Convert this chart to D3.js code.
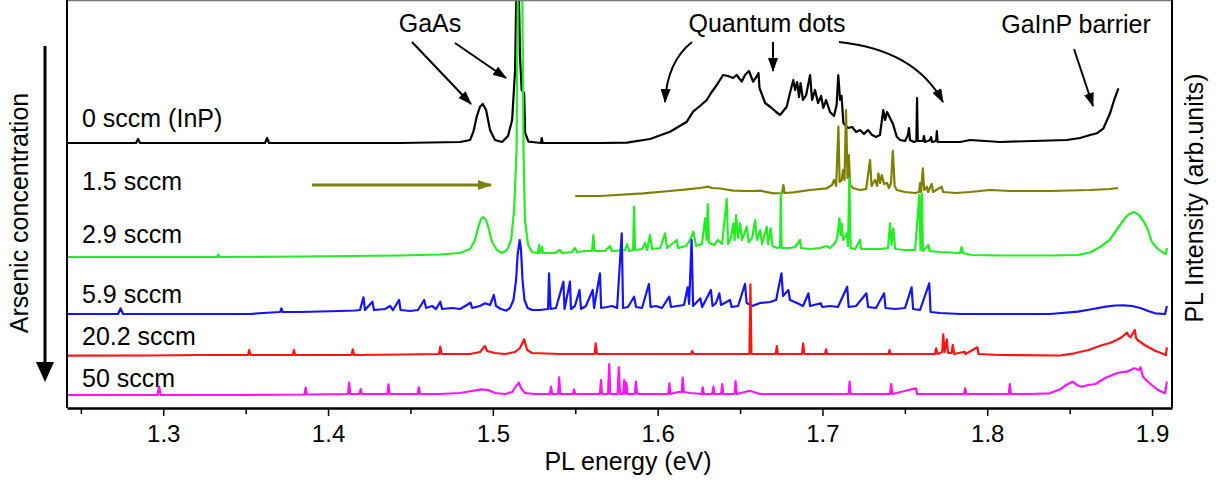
<!DOCTYPE html>
<html><head><meta charset="utf-8">
<script src="https://cdn.jsdelivr.net/npm/d3@7"></script>
<style>body{margin:0;background:#fff} text{font-family:"Liberation Sans",Arial,sans-serif;fill:#000}</style>
</head><body><svg id="c" width="1231" height="486"></svg>
<script>
// ---------- DATA (energy in eV, intensity in arb. units incl. vertical offset) ----------
const energyTicks = [1.3, 1.4, 1.5, 1.6, 1.7, 1.8, 1.9];
const minorTicks = [1.25, 1.35, 1.45, 1.55, 1.65, 1.75, 1.85];
const seriesNames = ["0 sccm (InP)", "1.5 sccm", "2.9 sccm", "5.9 sccm", "20.2 sccm", "50 sccm"];

const spec0 = [[1.2416,2650],[1.2835,2650],[1.2847,2690],[1.2859,2650],[1.3618,2650],[1.3630,2700],[1.3642,2650],[1.4437,2650],[1.4801,2660],
[1.4862,2680],[1.4882,2763],[1.4902,2913],[1.4922,3013],[1.4939,3040],[1.4959,2980],[1.4983,2780],[1.5013,2680],[1.5056,2660],
[1.5092,2720],[1.5117,2880],[1.5135,3380],[1.5144,4300],[1.5150,6000],[1.5156,4300],[1.5165,3510],[1.5175,3180],[1.5190,3150],[1.5196,2750],[1.5216,2663],[1.5238,2660],
[1.5292,2650],[1.5297,2700],[1.5302,2650],[1.5650,2650],[1.5814,2653],[1.5954,2690],[1.6075,2763],[1.6177,2863],[1.6215,2963],[1.6257,3020],[1.6298,3080],
[1.6324,3150],[1.6359,3230],[1.6397,3330],[1.6427,3320],[1.6458,3300],[1.6480,3330],[1.6510,3263],[1.6530,3330],[1.6554,3370],[1.6579,3263],[1.6603,3320],
[1.6612,3350],[1.6618,3200],[1.6634,3130],[1.6652,3050],[1.6692,3000],[1.6719,2960],[1.6743,2930],[1.6783,3013],[1.6803,3150],[1.6823,3280],[1.6834,3180],
[1.6846,3260],[1.6858,3110],[1.6867,3250],[1.6882,3080],[1.6901,3130],[1.6925,3330],[1.6937,3080],[1.6955,3180],[1.6973,3050],[1.6992,3120],[1.7005,3000],
[1.7022,3080],[1.7046,2960],[1.7070,2920],[1.7086,3030],[1.7096,3330],[1.7107,3080],[1.7116,3120],[1.7127,2850],[1.7155,2800],[1.7180,2810],[1.7204,2760],
[1.7228,2780],[1.7252,2740],[1.7276,2780],[1.7301,2730],[1.7325,2710],[1.7349,2730],[1.7369,2980],[1.7380,2880],[1.7392,2960],[1.7410,2900],[1.7428,2840],
[1.7451,2713],[1.7471,2680],[1.7501,2670],[1.7519,2730],[1.7525,2800],[1.7531,2680],[1.7556,2660],[1.7570,2670],[1.7574,3100],[1.7578,2670],[1.7610,2670],
[1.7616,2720],[1.7622,2660],[1.7653,2680],[1.7659,2710],[1.7665,2660],[1.7690,2670],[1.7694,2770],[1.7699,2660],[1.7835,2660],[1.7896,2680],[1.8078,2660],
[1.8483,2680],[1.8563,2700],[1.8624,2730],[1.8665,2747],[1.8705,2797],[1.8745,2947],[1.8770,3080],[1.8796,3197]];

const spec1 = [[1.5500,2120],[1.5650,2120],[1.5913,2147],[1.6075,2170],[1.6177,2187],[1.6257,2200],[1.6308,2213],[1.6330,2200],[1.6379,2195],[1.6459,2173],
[1.6530,2170],[1.6591,2170],[1.6622,2173],[1.6702,2147],[1.6755,2150],[1.6763,2230],[1.6770,2150],[1.6823,2157],[1.6925,2180],[1.7026,2197],[1.7058,2230],
[1.7070,2280],[1.7083,2220],[1.7097,2813],[1.7104,2260],[1.7117,2280],[1.7125,2380],[1.7134,2280],[1.7143,2980],[1.7152,2300],[1.7160,2530],[1.7168,2230],
[1.7188,2197],[1.7228,2180],[1.7265,2190],[1.7289,2480],[1.7298,2220],[1.7319,2280],[1.7332,2220],[1.7339,2347],[1.7350,2250],[1.7360,2330],[1.7374,2240],
[1.7392,2250],[1.7404,2200],[1.7416,2250],[1.7427,2573],[1.7438,2220],[1.7451,2180],[1.7501,2160],[1.7562,2150],[1.7586,2160],[1.7592,2250],[1.7598,2160],
[1.7609,2397],[1.7617,2180],[1.7633,2213],[1.7641,2160],[1.7663,2240],[1.7671,2160],[1.7724,2213],[1.7732,2160],[1.7805,2150],[1.7896,2160],[1.8017,2180],
[1.8139,2170],[1.8381,2170],[1.8624,2180],[1.8745,2190],[1.8794,2200]];

const spec2 = [[1.2416,1510],[1.3223,1510],[1.3327,1510],[1.3334,1535],[1.3342,1510],[1.3830,1515],[1.4133,1520],[1.4437,1525],[1.4680,1535],[1.4801,1550],
[1.4862,1590],[1.4892,1680],[1.4910,1800],[1.4928,1890],[1.4941,1910],[1.4959,1880],[1.4977,1780],[1.4995,1660],[1.5025,1580],[1.5056,1550],[1.5086,1580],
[1.5111,1680],[1.5129,1980],[1.5144,2580],[1.5153,4500],[1.5165,6000],[1.5177,4500],[1.5186,2580],[1.5195,1880],[1.5214,1630],[1.5238,1560],
[1.5274,1550],[1.5280,1630],[1.5286,1550],[1.5298,1610],[1.5305,1550],[1.5377,1550],[1.5407,1580],[1.5420,1550],[1.5480,1560],[1.5499,1600],[1.5510,1560],
[1.5559,1570],[1.5602,1570],[1.5610,1730],[1.5617,1570],[1.5681,1570],[1.5711,1620],[1.5723,1570],[1.5802,1580],[1.5814,1640],[1.5826,1570],[1.5851,1580],
[1.5857,2013],[1.5863,1580],[1.5905,1590],[1.5924,1650],[1.5936,1580],[1.5954,1730],[1.5966,1590],[1.6015,1600],[1.6045,1747],[1.6057,1600],[1.6116,1680],
[1.6124,1600],[1.6172,1620],[1.6197,1680],[1.6217,1763],[1.6233,1620],[1.6269,1640],[1.6288,1897],[1.6297,1680],[1.6304,2040],[1.6312,1650],[1.6342,1630],
[1.6366,1680],[1.6391,1640],[1.6419,2090],[1.6427,1640],[1.6445,1700],[1.6460,1847],[1.6467,1680],[1.6476,1930],[1.6488,1700],[1.6500,1847],[1.6512,1680],
[1.6541,1813],[1.6552,1660],[1.6573,1700],[1.6591,1880],[1.6603,1680],[1.6622,1780],[1.6634,1640],[1.6662,1813],[1.6670,1640],[1.6686,1797],[1.6697,1620],
[1.6725,1600],[1.6743,1610],[1.6747,2153],[1.6752,1600],[1.6803,1600],[1.6834,1610],[1.6864,1680],[1.6870,1600],[1.6925,1590],[1.6986,1600],[1.7022,1620],
[1.7046,1600],[1.7076,1650],[1.7089,1700],[1.7103,1897],[1.7110,1730],[1.7117,1847],[1.7125,1680],[1.7148,1747],[1.7155,1620],[1.7163,2300],[1.7171,1600],
[1.7198,1590],[1.7228,1680],[1.7234,1590],[1.7289,1590],[1.7350,1590],[1.7398,1600],[1.7410,1847],[1.7419,1630],[1.7430,1797],[1.7441,1590],[1.7501,1580],
[1.7562,1580],[1.7588,2130],[1.7595,1580],[1.7603,2147],[1.7610,1570],[1.7643,1630],[1.7650,1570],[1.7714,1560],[1.7835,1550],[1.7844,1610],[1.7853,1550],
[1.7908,1530],[1.8078,1525],[1.8381,1525],[1.8549,1530],[1.8624,1555],[1.8684,1610],[1.8742,1680],[1.8776,1760],[1.8806,1830],[1.8836,1900],[1.8860,1940],
[1.8891,1960],[1.8921,1930],[1.8951,1860],[1.8975,1780],[1.8998,1663],[1.9030,1600],[1.9060,1560],[1.9084,1540],[1.9090,1600]];

const spec3 = [[1.2416,940],[1.2726,940],[1.2741,997],[1.2756,940],[1.3527,940],[1.3606,950],[1.3709,960],[1.3717,997],[1.3724,960],[1.3830,960],[1.3951,965],
[1.4073,970],[1.4164,975],[1.4194,980],[1.4215,1107],[1.4224,980],[1.4269,1063],[1.4279,980],[1.4346,990],[1.4376,1020],[1.4394,980],[1.4431,1080],[1.4440,980],
[1.4498,970],[1.4546,980],[1.4583,1080],[1.4595,1000],[1.4631,1020],[1.4655,990],[1.4681,1063],[1.4692,990],[1.4752,1000],[1.4801,990],[1.4865,1053],[1.4874,1000],
[1.4922,1020],[1.4953,1047],[1.4983,1030],[1.5006,1130],[1.5019,1020],[1.5050,990],[1.5082,973],[1.5104,1000],[1.5125,1080],[1.5141,1280],[1.5150,1530],
[1.5163,1680],[1.5171,1580],[1.5180,1280],[1.5192,1080],[1.5211,1000],[1.5238,980],[1.5286,980],[1.5335,990],[1.5341,1347],[1.5350,990],[1.5383,1000],
[1.5428,1263],[1.5435,990],[1.5468,1263],[1.5474,990],[1.5498,1020],[1.5526,1180],[1.5535,990],[1.5565,1020],[1.5606,1180],[1.5614,1000],[1.5650,1347],[1.5657,1000],
[1.5693,1010],[1.5723,1020],[1.5754,1000],[1.5782,1747],[1.5790,1000],[1.5820,1010],[1.5857,1113],[1.5869,1010],[1.5905,1000],[1.5947,1240],[1.5957,1010],
[1.5990,1020],[1.6026,1000],[1.6071,1113],[1.6081,1010],[1.6118,1020],[1.6160,1030],[1.6182,1207],[1.6191,1040],[1.6206,1680],[1.6215,1020],[1.6259,1097],
[1.6270,1010],[1.6323,1180],[1.6333,1020],[1.6354,1050],[1.6374,1147],[1.6385,1030],[1.6439,1080],[1.6449,1010],[1.6488,1020],[1.6530,1240],[1.6540,1050],
[1.6573,1020],[1.6622,1050],[1.6682,1060],[1.6719,1080],[1.6751,1347],[1.6761,1120],[1.6793,1180],[1.6803,1080],[1.6846,1050],[1.6882,1020],[1.6915,1147],
[1.6925,1020],[1.6990,1047],[1.6998,1010],[1.7046,1020],[1.7094,1010],[1.7150,1213],[1.7159,1010],[1.7204,1020],[1.7267,1147],[1.7277,1010],[1.7325,1000],
[1.7374,1147],[1.7383,1000],[1.7441,990],[1.7501,1000],[1.7541,1207],[1.7550,990],[1.7592,980],[1.7648,1247],[1.7656,960],[1.7714,950],[1.7835,940],[1.8078,940],
[1.8381,940],[1.8549,963],[1.8624,985],[1.8720,1013],[1.8776,1025],[1.8827,1027],[1.8879,1020],[1.8934,997],[1.8976,970],[1.9019,947],[1.9079,940],[1.9090,1020]];

const spec4 = [[1.2416,523],[1.2920,525],[1.3223,530],[1.3515,530],[1.3521,580],[1.3530,530],[1.3785,530],[1.3793,580],[1.3800,530],[1.4143,530],[1.4150,587],
[1.4158,530],[1.4437,535],[1.4673,540],[1.4681,613],[1.4689,540],[1.4862,540],[1.4922,560],[1.4952,620],[1.4965,570],[1.5013,550],[1.5074,540],[1.5135,560],
[1.5165,600],[1.5190,687],[1.5208,580],[1.5238,550],[1.5408,540],[1.5617,540],[1.5624,647],[1.5632,540],[1.5893,540],[1.6203,540],[1.6210,570],[1.6218,540],
[1.6557,540],[1.6563,1237],[1.6569,540],[1.6717,540],[1.6723,620],[1.6729,540],[1.6876,540],[1.6883,647],[1.6890,540],[1.7016,540],[1.7022,587],[1.7028,540],
[1.7401,540],[1.7407,580],[1.7413,540],[1.7683,540],[1.7690,597],[1.7699,540],[1.7726,560],[1.7733,737],[1.7741,560],[1.7755,687],[1.7762,550],[1.7783,550],
[1.7791,630],[1.7799,540],[1.7862,563],[1.7868,540],[1.7940,607],[1.7947,540],[1.8078,530],[1.8442,525],[1.8528,547],[1.8614,580],[1.8699,630],[1.8745,650],
[1.8785,680],[1.8818,710],[1.8848,753],[1.8860,720],[1.8870,707],[1.8895,780],[1.8903,700],[1.8912,680],[1.8955,630],[1.8988,600],[1.9019,573],[1.9084,530],[1.9090,607]];

const spec5 = [[1.2416,130],[1.2965,130],[1.2975,213],[1.2984,130],[1.3527,130],[1.3857,135],[1.3864,203],[1.3871,135],[1.4121,140],[1.4128,253],[1.4135,140],
[1.4191,140],[1.4198,190],[1.4205,140],[1.4360,140],[1.4367,237],[1.4373,140],[1.4544,140],[1.4551,207],[1.4558,140],[1.4680,140],[1.4801,150],[1.4874,170],
[1.4930,187],[1.4971,180],[1.5013,150],[1.5074,140],[1.5117,160],[1.5141,220],[1.5158,253],[1.5171,200],[1.5195,150],[1.5256,140],[1.5346,140],[1.5353,213],
[1.5360,140],[1.5396,140],[1.5402,307],[1.5409,140],[1.5487,140],[1.5493,187],[1.5500,140],[1.5650,140],[1.5656,280],[1.5663,140],[1.5699,140],[1.5706,440],
[1.5713,140],[1.5757,140],[1.5764,407],[1.5772,140],[1.5790,140],[1.5797,280],[1.5803,140],[1.5810,253],[1.5817,140],[1.5861,140],[1.5868,263],[1.5875,140],
[1.6014,140],[1.6064,140],[1.6071,247],[1.6078,140],[1.6124,160],[1.6146,160],[1.6152,303],[1.6159,160],[1.6197,150],[1.6267,140],[1.6274,207],[1.6280,140],
[1.6331,140],[1.6338,213],[1.6344,140],[1.6385,140],[1.6392,240],[1.6398,140],[1.6466,140],[1.6473,270],[1.6480,140],[1.6558,173],[1.6622,140],[1.6864,140],
[1.7158,140],[1.7165,263],[1.7171,140],[1.7410,140],[1.7417,240],[1.7424,140],[1.7567,197],[1.7574,140],[1.7859,140],[1.7866,197],[1.7873,140],[1.8130,140],
[1.8137,240],[1.8143,140],[1.8260,140],[1.8379,147],[1.8443,187],[1.8478,230],[1.8518,263],[1.8545,230],[1.8571,213],[1.8612,230],[1.8657,240],[1.8715,300],
[1.8785,347],[1.8818,360],[1.8848,363],[1.8891,397],[1.8921,380],[1.8930,407],[1.8945,313],[1.8970,270],[1.8998,230],[1.9036,180],[1.9079,147],[1.9090,263]];

const spectra = [spec0, spec1, spec2, spec3, spec4, spec5];

// ---------- STYLE / LAYOUT ----------
const colors = ["#000000", "#808000", "#22ee22", "#1414ff", "#ff1414", "#ff14ff"];
const L = 67, R = 1172, T = 0, B = 408;
const FONT = 25;

const svg = d3.select("#c");
const x = d3.scaleLinear().domain([1.2416, 1.9121]).range([L, R]);
const y = d3.scaleLinear().domain([0, 4080]).range([B, T]);

const defs = svg.append("defs");
defs.append("clipPath").attr("id", "clip").append("rect")
  .attr("x", L).attr("y", T).attr("width", R - L).attr("height", B - T);
function marker(id, col) {
  defs.append("marker").attr("id", id).attr("viewBox", "0 0 14 10")
    .attr("refX", 13).attr("refY", 5).attr("markerWidth", 14).attr("markerHeight", 10)
    .attr("markerUnits", "userSpaceOnUse").attr("orient", "auto")
    .append("path").attr("d", "M0,0 L14,5 L0,10 Z").attr("fill", col);
}
marker("ah", "#000");
marker("ahOlive", "#808000");

// spectra
const line = d3.line().x(d => x(d[0])).y(d => y(d[1]));
const g = svg.append("g").attr("clip-path", "url(#clip)");
spectra.forEach((s, i) => {
  g.append("path").datum(s).attr("d", line).attr("fill", "none")
    .attr("stroke", colors[i]).attr("stroke-width", 2.2).attr("stroke-linejoin", "round");
});

// frame
svg.append("line").attr("x1", L).attr("x2", R).attr("y1", 0.5).attr("y2", 0.5).attr("stroke", "#777").attr("stroke-width", 1.5);
svg.append("line").attr("x1", L).attr("x2", L).attr("y1", T).attr("y2", B).attr("stroke", "#000").attr("stroke-width", 2);
svg.append("line").attr("x1", R).attr("x2", R).attr("y1", T).attr("y2", B).attr("stroke", "#000").attr("stroke-width", 2);

// x axis
const ax = svg.append("g").attr("transform", `translate(0,${B})`)
  .call(d3.axisBottom(x).tickValues(energyTicks).tickSize(8).tickSizeOuter(0).tickPadding(9).tickFormat(d3.format(".1f")));
ax.select(".domain").attr("stroke-width", 2.5);
ax.selectAll(".tick line").attr("stroke-width", 1.5);
ax.selectAll(".tick text").attr("font-size", 24).attr("font-family", "Liberation Sans, Arial, sans-serif");
const axm = svg.append("g").attr("transform", `translate(0,${B})`)
  .call(d3.axisBottom(x).tickValues(minorTicks).tickSize(6).tickFormat(""));
axm.select(".domain").remove();
axm.selectAll(".tick line").attr("stroke-width", 1.5);

svg.append("text").attr("x", 628).attr("y", 470).attr("text-anchor", "middle")
  .attr("font-size", FONT).text("PL energy (eV)");
svg.append("text").attr("transform", "translate(1203,198) rotate(-90)").attr("text-anchor", "middle")
  .attr("font-size", FONT).text("PL Intensity (arb.units)");
svg.append("text").attr("transform", "translate(28,213) rotate(-90)").attr("text-anchor", "middle")
  .attr("font-size", FONT).text("Arsenic concentration");

// big downward arrow
svg.append("line").attr("x1", 45).attr("x2", 45).attr("y1", 46).attr("y2", 364).attr("stroke", "#000").attr("stroke-width", 3);
svg.append("path").attr("d", "M36,362 L54,362 L45,382 Z").attr("fill", "#000");

// series labels
const labelBase = [127, 190, 243, 303, 345, 387];
seriesNames.forEach((n, i) => {
  svg.append("text").attr("x", 82).attr("y", labelBase[i]).attr("font-size", FONT).text(n);
});

// olive arrow
svg.append("line").attr("x1", 312).attr("x2", 491).attr("y1", 185).attr("y2", 185)
  .attr("stroke", "#808000").attr("stroke-width", 3).attr("marker-end", "url(#ahOlive)");

// annotations
const ann = svg.append("g");
ann.append("text").attr("x", 430).attr("y", 32).attr("text-anchor", "middle").attr("font-size", FONT).text("GaAs");
ann.append("text").attr("x", 767).attr("y", 32).attr("text-anchor", "middle").attr("font-size", FONT).text("Quantum dots");
ann.append("text").attr("x", 1076).attr("y", 33).attr("text-anchor", "middle").attr("font-size", FONT).text("GaInP barrier");
const arrows = [
  "M412,42 L471,104",
  "M455,43 L506,78",
  "M692,42 Q667,62 665,102",
  "M773,42 L773,71",
  "M839,42 Q915,50 943,102",
  "M1074,49 L1093,106"
];
arrows.forEach(d => ann.append("path").attr("d", d).attr("fill", "none").attr("stroke", "#000")
  .attr("stroke-width", 2).attr("marker-end", "url(#ah)"));
</script></body></html>
